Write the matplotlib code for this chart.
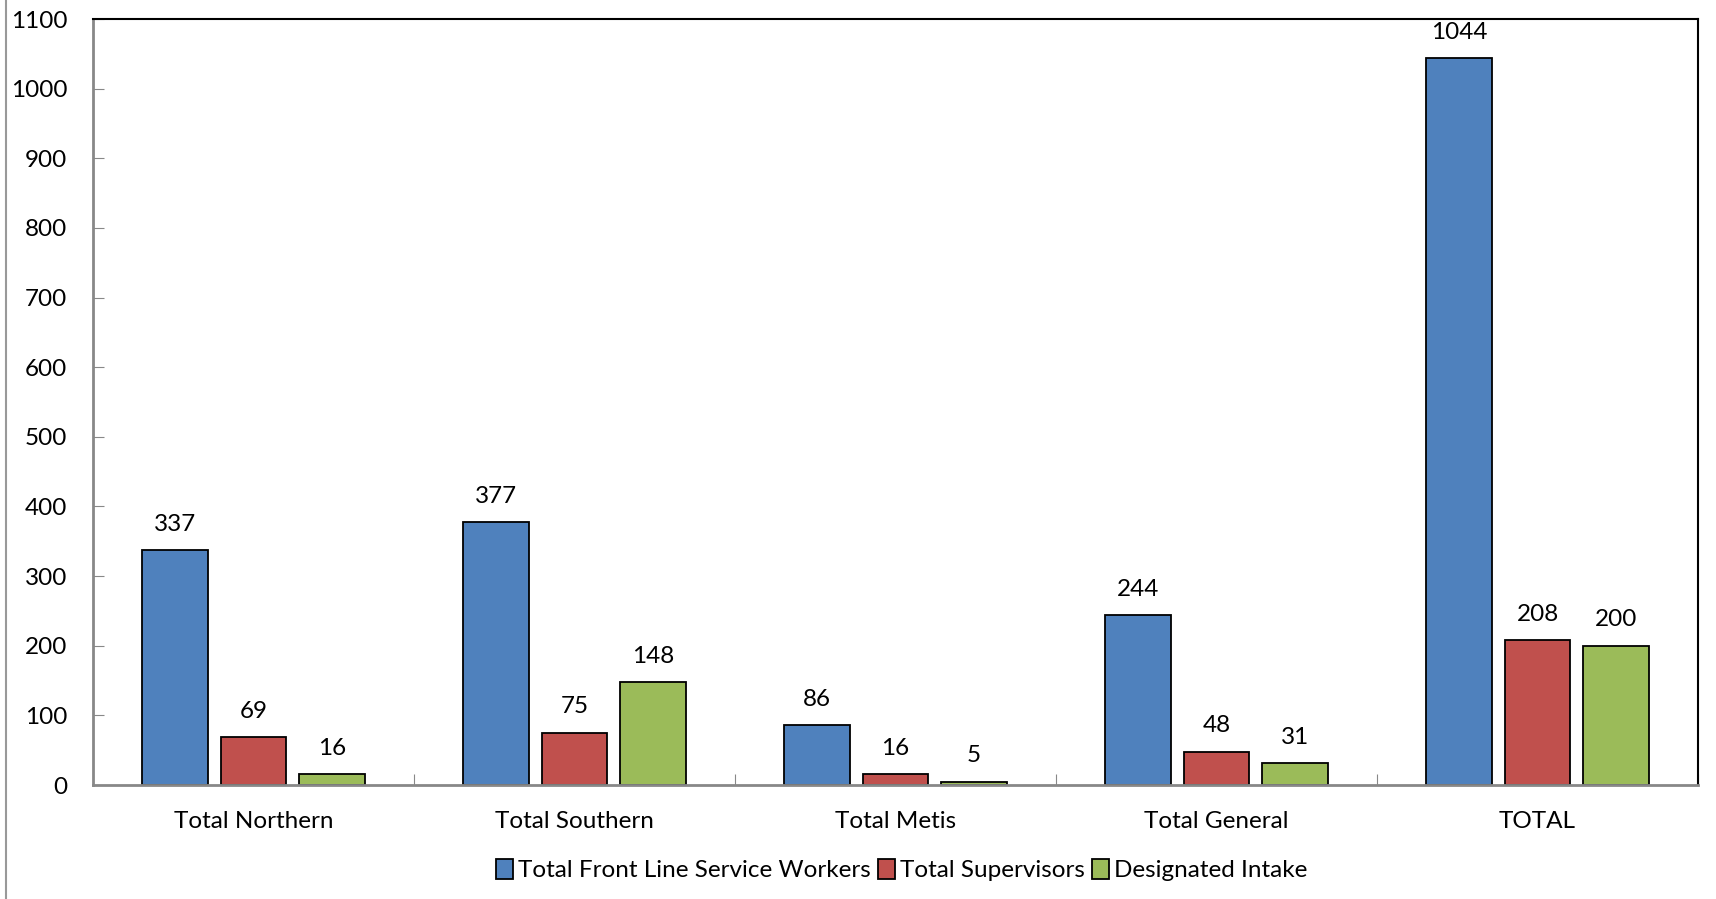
import numpy as np
import matplotlib.pyplot as plt
from matplotlib.lines import Line2D

# data
categories = ['Total Northern', 'Total Southern', 'Total Metis', 'Total General', 'TOTAL']
front_line = [337, 377, 86, 244, 1044]
supervisors = [69, 75, 16, 48, 208]
intake = [16, 148, 5, 31, 200]
series_names = ['Total Front Line Service Workers', 'Total Supervisors', 'Designated Intake']
colors = ['#4F81BD', '#C0504D', '#9BBB59']

plt.rcParams['font.family'] = ['Lato', 'DejaVu Sans']
fs = 17.5

fig = plt.figure(figsize=(17.16, 8.99), dpi=100)
ax = fig.add_axes([93 / 1716, 1 - 785 / 899, (1698 - 93) / 1716, (785 - 19) / 899])

x = np.arange(len(categories))
width = 0.205
step = 0.245
for k, (vals, name, c) in enumerate(zip([front_line, supervisors, intake], series_names, colors)):
    bars = ax.bar(x + (k - 1) * step, vals, width, color=c, edgecolor='black', linewidth=1.3, label=name)
    for b, v in zip(bars, vals):
        ax.annotate(str(v), (b.get_x() + b.get_width() / 2, v), xytext=(0, 11),
                    textcoords='offset points', ha='center', va='bottom', fontsize=fs)

ax.set_xlim(-0.5, len(categories) - 0.5)
ax.set_ylim(0, 1100)
ax.set_yticks(np.arange(0, 1101, 100))
ax.set_xticks(np.arange(-0.5, len(categories), 1))
ax.set_xticklabels([])
ax.set_xticks(x, minor=True)
ax.set_xticklabels(categories, minor=True, fontsize=fs)
ax.tick_params(axis='x', which='minor', length=0, pad=19)
ax.tick_params(axis='x', which='major', direction='in', length=8, color='#888888')
ax.tick_params(axis='y', direction='in', length=8, color='#888888', labelsize=fs, pad=18.5)

for s in ['top', 'right']:
    ax.spines[s].set_color('black')
    ax.spines[s].set_linewidth(1.5)
for s in ['left', 'bottom']:
    ax.spines[s].set_color('#888888')
    ax.spines[s].set_linewidth(2)

ax.legend(loc='center', bbox_to_anchor=(902 / 1716, 1 - 870 / 899), bbox_transform=fig.transFigure,
          ncol=3, frameon=False, fontsize=fs, handlelength=0.7, handleheight=0.9,
          handletextpad=0.2, columnspacing=0.3)

# chart area border on the left
fig.add_artist(Line2D([6 / 1716, 6 / 1716], [0, 1], color='#999999', linewidth=1.5,
                      transform=fig.transFigure))

fig.savefig('out.png', dpi=100)
